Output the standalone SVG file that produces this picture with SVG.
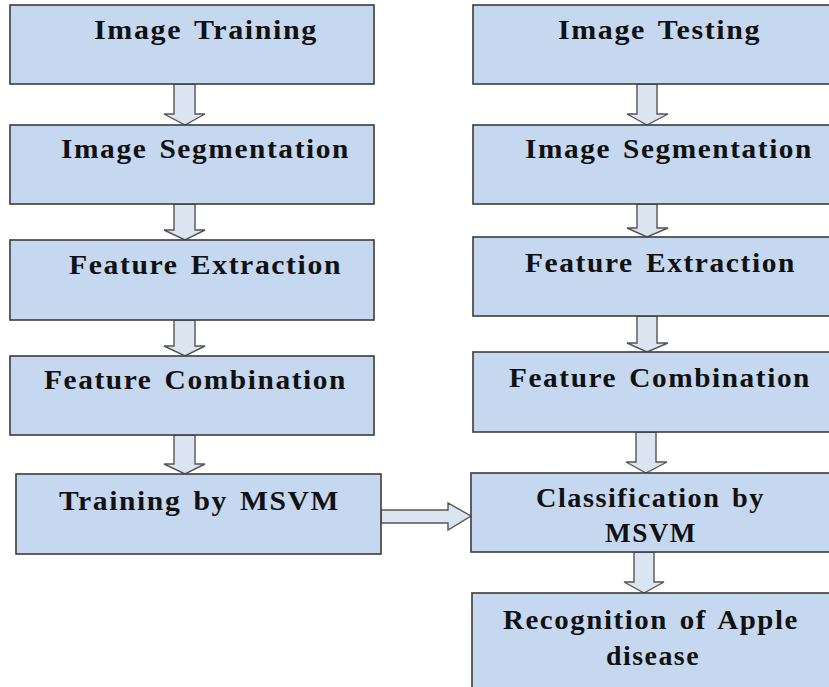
<svg xmlns="http://www.w3.org/2000/svg" width="829" height="687" viewBox="0 0 829 687">
<defs>
<style>
.box{fill:#c6d8ef;stroke:#3c3c3c;stroke-width:1.6}
.t{font-family:'Liberation Serif','Times New Roman','DejaVu Serif',serif;font-weight:700;font-size:28px;letter-spacing:1.5px;word-spacing:3px;fill:#111}
.arr{fill:#dbe5f1;stroke:#555;stroke-width:1.4;stroke-linejoin:miter}
</style>
</defs>
<rect width="829" height="687" fill="#fff"/>
<g id="connectors">
<path class="arr" d="M174,84 V114 H164 L185,125 L205,114 H195 V84 Z"/>
<path class="arr" d="M174,204 V230 H164 L185,240 L205,230 H195 V204 Z"/>
<path class="arr" d="M174,320 V346 H164 L185,356 L205,346 H195 V320 Z"/>
<path class="arr" d="M174,435 V464 H164 L185,474 L205,464 H195 V435 Z"/>
<path class="arr" d="M637,84 V114 H627 L647,125 L668,114 H657 V84 Z"/>
<path class="arr" d="M637,204 V228 H627 L647,237 L668,228 H657 V204 Z"/>
<path class="arr" d="M637,316 V343 H627 L647,352 L668,343 H657 V316 Z"/>
<path class="arr" d="M636,432 V462 H626 L646,473 L667,462 H656 V432 Z"/>
<path class="arr" d="M634,552 V582 H624 L644,593 L664,582 H654 V552 Z"/>
<path class="arr" d="M381,510 H448 V503 L471,516 L448,530 V523 H381 Z"/>
</g>
<g id="n1"><rect class="box" x="10" y="5" width="364" height="79"/><text class="t" font-family="Liberation Serif, serif" x="94" y="39" textLength="224" lengthAdjust="spacingAndGlyphs">Image Training</text></g>
<g id="n2"><rect class="box" x="10" y="125" width="364" height="79"/><text class="t" font-family="Liberation Serif, serif" x="61" y="158" textLength="289" lengthAdjust="spacingAndGlyphs">Image Segmentation</text></g>
<g id="n3"><rect class="box" x="10" y="240" width="364" height="80"/><text class="t" font-family="Liberation Serif, serif" x="69" y="274" textLength="273" lengthAdjust="spacingAndGlyphs">Feature Extraction</text></g>
<g id="n4"><rect class="box" x="10" y="356" width="364" height="79"/><text class="t" font-family="Liberation Serif, serif" x="44" y="389" textLength="303" lengthAdjust="spacingAndGlyphs">Feature Combination</text></g>
<g id="n5"><rect class="box" x="16" y="474" width="365" height="80"/><text class="t" font-family="Liberation Serif, serif" x="59" y="510" textLength="281" lengthAdjust="spacingAndGlyphs">Training by MSVM</text></g>
<g id="m1"><rect class="box" x="473" y="5" width="370" height="79"/><text class="t" font-family="Liberation Serif, serif" x="558" y="39" textLength="203" lengthAdjust="spacingAndGlyphs">Image Testing</text></g>
<g id="m2"><rect class="box" x="473" y="125" width="370" height="79"/><text class="t" font-family="Liberation Serif, serif" x="525" y="158" textLength="288" lengthAdjust="spacingAndGlyphs">Image Segmentation</text></g>
<g id="m3"><rect class="box" x="473" y="237" width="370" height="79"/><text class="t" font-family="Liberation Serif, serif" x="525" y="272" textLength="271" lengthAdjust="spacingAndGlyphs">Feature Extraction</text></g>
<g id="m4"><rect class="box" x="473" y="352" width="370" height="80"/><text class="t" font-family="Liberation Serif, serif" x="509" y="387" textLength="302" lengthAdjust="spacingAndGlyphs">Feature Combination</text></g>
<g id="m5"><rect class="box" x="471" y="473" width="372" height="79"/><text class="t" font-family="Liberation Serif, serif" x="536" y="507" textLength="229" lengthAdjust="spacingAndGlyphs">Classification by</text><text class="t" font-family="Liberation Serif, serif" x="605" y="542" textLength="92" lengthAdjust="spacingAndGlyphs">MSVM</text></g>
<g id="m6"><rect class="box" x="472" y="593" width="371" height="110"/><text class="t" font-family="Liberation Serif, serif" x="503" y="629" textLength="296" lengthAdjust="spacingAndGlyphs">Recognition of Apple</text><text class="t" font-family="Liberation Serif, serif" x="606" y="665" textLength="94" lengthAdjust="spacingAndGlyphs">disease</text></g>
</svg>
